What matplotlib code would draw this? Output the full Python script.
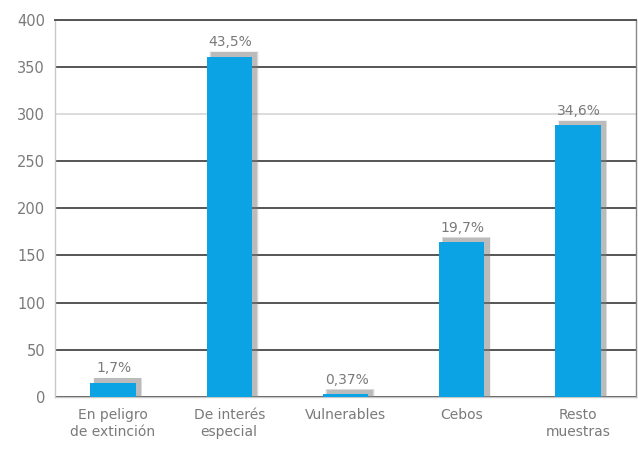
import matplotlib.pyplot as plt
from matplotlib.patches import Rectangle

# samples per category and share of total
categorias = ["En peligro\nde extinción", "De interés\nespecial", "Vulnerables", "Cebos", "Resto\nmuestras"]
valores = [15, 361, 3, 164, 288]
porcentajes = ["1,7%", "43,5%", "0,37%", "19,7%", "34,6%"]
yticks = [0, 50, 100, 150, 200, 250, 300, 350, 400]

azul = "#0ba3e3"
gris_texto = "#7a7a7a"

fig = plt.figure(figsize=(6.38, 4.49), dpi=100)
ax = fig.add_axes([0.086, 0.116, 0.911, 0.840])

x = range(len(categorias))
ancho = 0.39

# soft grey drop shadow up and to the right of each bar
for xi, v in zip(x, valores):
    for k, a in enumerate([0.10, 0.18, 0.32]):
        d = 0.012 * (3 - k)
        ax.add_patch(Rectangle((xi - ancho / 2 + 0.04 - d / 2, 0),
                               ancho + d, v + 4.5 + d * 25,
                               facecolor="#7a7a7a", edgecolor="none",
                               alpha=a, zorder=2))

ax.bar(x, valores, width=ancho, color=azul, zorder=3)

for xi, v, p in zip(x, valores, porcentajes):
    ax.text(xi + 0.01, v + 8, p, ha="center", va="bottom",
            fontsize=10, color=gris_texto, zorder=4)

ax.set_xlim(-0.5, 4.5)
ax.set_ylim(0, 400)
ax.set_yticks(yticks)
ax.set_xticks(list(x))
ax.set_xticklabels(categorias, fontsize=10, color=gris_texto, linespacing=1.25)
ax.tick_params(axis="y", length=0, pad=7, labelsize=10.5, labelcolor=gris_texto)
ax.tick_params(axis="x", length=0, pad=8)

ax.yaxis.grid(True, color="#555555", linewidth=1.4, zorder=1)
ax.set_axisbelow(True)
# the 300 line is drawn much lighter than the rest
ax.get_ygridlines()[6].set_color("#dcdcdc")

for lado in ["left", "bottom", "right"]:
    ax.spines[lado].set_color("#c8c8c8")
    ax.spines[lado].set_linewidth(1.0)
ax.spines["right"].set_color("#888888")
ax.spines["top"].set_color("#555555")
ax.spines["top"].set_linewidth(1.4)

fig.savefig("out.png", dpi=100)
